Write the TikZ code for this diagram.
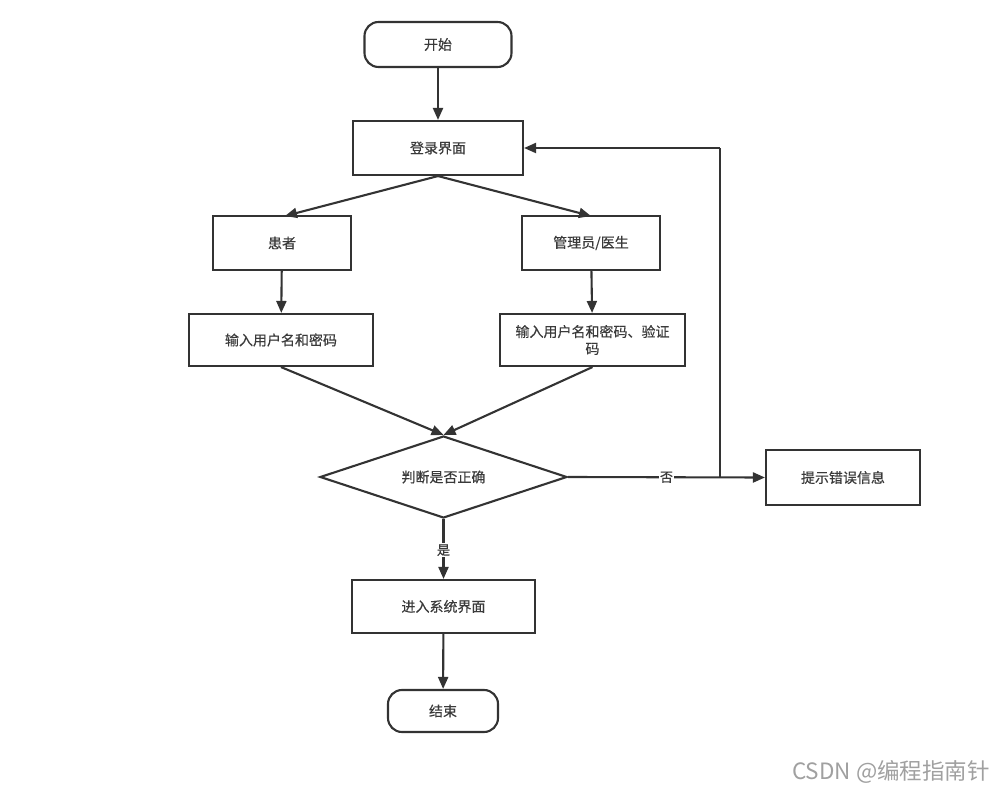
\documentclass[tikz,border=0pt]{standalone}
\usepackage{fontspec}
\setmainfont{Noto Sans CJK SC}[FakeBold=0.5]
\newfontfamily\wmfont{Noto Sans CJK SC}
\usetikzlibrary{shapes.geometric,arrows.meta}
\definecolor{ink}{HTML}{333333}
\definecolor{txt}{HTML}{3A3A3A}
\definecolor{wm}{HTML}{A0A0A0}
\tikzset{
  base/.style={draw=ink, line width=2.1pt, text=txt, font=\fontsize{14}{17}\selectfont, inner sep=0pt},
  boxnode/.style={base, rectangle, minimum width=#1, minimum height=53pt},
  termnode/.style={base, rectangle, rounded corners=14pt, minimum width=#1},
  conn/.style={draw=ink, line width=2.1pt, -{Triangle[length=12pt,width=10pt]}},
  plain/.style={draw=ink, line width=2.1pt},
  lbl/.style={fill=white, text=txt, font=\fontsize{13}{15}\selectfont, inner sep=1pt}
}
\begin{document}
\begin{tikzpicture}[x=1pt,y=-1pt]
\useasboundingbox (0,0) rectangle (1007,802);
\node[termnode=147pt, minimum height=45pt] (start) at (438,44.5) {开始};
\node[boxnode=170pt, minimum height=54pt] (login) at (438,148) {登录界面};
\node[boxnode=138pt, minimum height=54pt] (pat) at (282,243) {患者};
\node[boxnode=138pt, minimum height=54pt] (adm) at (591,243) {管理员/医生};
\node[boxnode=184pt, minimum height=52pt] (in1) at (281,340) {输入用户名和密码};
\node[boxnode=185pt, minimum height=52pt, align=center] (in2) at (592.5,340) {输入用户名和密码、验证\\码};
\node[base, diamond, minimum width=247pt, minimum height=82pt, aspect=3] (dec) at (443.5,477) {判断是否正确};
\node[boxnode=154pt, minimum height=55pt] (err) at (843,477.5) {提示错误信息};
\node[boxnode=183pt, minimum height=53pt] (sys) at (443.5,606.5) {进入系统界面};
\node[termnode=110pt, minimum height=42pt] (end) at (443,711) {结束};
\coordinate (jn) at (720,477);
\coordinate (jt) at (720,148);
\coordinate (ptop) at (285,216);
\coordinate (atop) at (591,216);
\draw[conn] (start) -- (login);
\draw[conn] (login.south) -- (ptop);
\draw[conn] (login.south) -- (atop);
\draw[conn] (pat) -- (in1);
\draw[conn] (adm) -- (in2);
\draw[conn] (in1.south) -- (dec.north);
\draw[conn] (in2.south) -- (dec.north);
\draw[conn] (dec.east) -- node[lbl, pos=0.5] {否} (err.west);
\draw[plain] (jn) -- (jt);
\draw[conn] (jt) -- (login.east);
\draw[conn] (dec.south) -- node[lbl, pos=0.52] {是} (sys.north);
\draw[conn] (sys) -- (end);
\node[text=wm, font=\wmfont\fontsize{22.5}{26}\selectfont, anchor=west, inner sep=0pt] (wmk) at (792,772) {CSDN @编程指南针};
\end{tikzpicture}
\end{document}
